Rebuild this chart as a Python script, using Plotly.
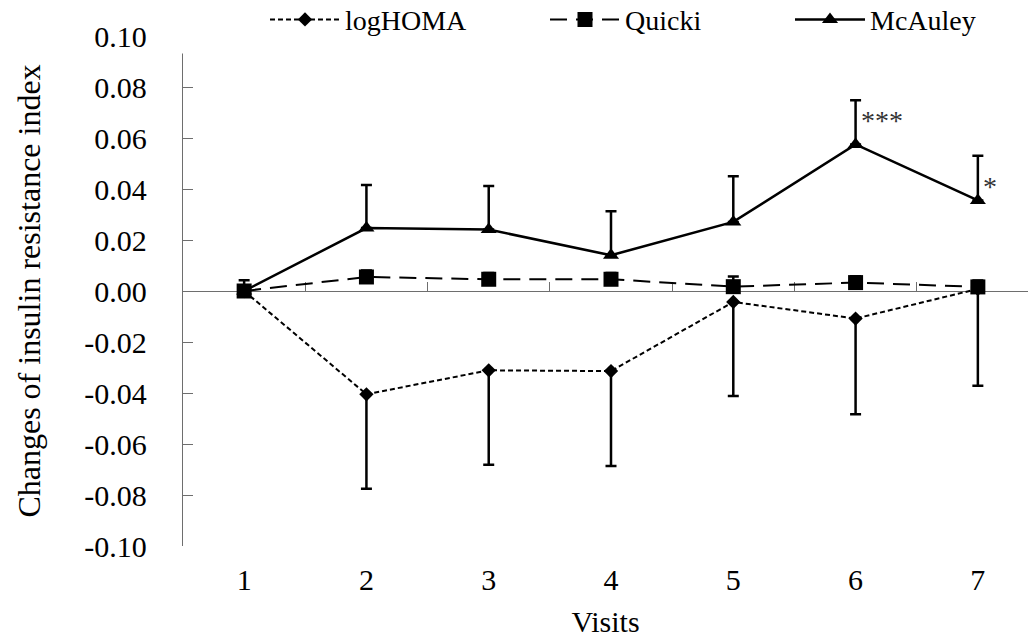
import plotly.graph_objects as go

# ---- data ----
visits = [1, 2, 3, 4, 5, 6, 7]
visit_labels = ["1", "2", "3", "4", "5", "6", "7"]

loghoma = [0.0000, -0.0405, -0.0311, -0.0314, -0.0043, -0.0108, 0.0008]
loghoma_err = [0.0000, 0.0370, 0.0370, 0.0372, 0.0369, 0.0375, 0.0380]

quicki = [0.0000, 0.0055, 0.0046, 0.0046, 0.0017, 0.0033, 0.0016]
quicki_err = [0.0042, 0.0025, 0.0025, 0.0025, 0.0040, 0.0025, 0.0025]

mcauley = [0.0000, 0.0247, 0.0241, 0.0140, 0.0271, 0.0575, 0.0355]
mcauley_err = [0.0000, 0.0169, 0.0171, 0.0173, 0.0179, 0.0173, 0.0175]

star_text = ["***", "*"]
star_visit = [6, 7]
star_y = [0.0667, 0.0410]

y_ticks = [-0.10, -0.08, -0.06, -0.04, -0.02, 0.00, 0.02, 0.04, 0.06, 0.08, 0.10]

FONT = "Liberation Serif"
AXIS_COL = "#6e6e6e"

fig = go.Figure()

fig.add_trace(go.Scatter(
    x=visits, y=loghoma, name="logHOMA", mode="lines+markers",
    line=dict(color="black", width=2, dash="5px,3px"),
    marker=dict(symbol="diamond", size=11, color="black"),
    error_y=dict(type="data", symmetric=False, array=[0] * 7, arrayminus=loghoma_err,
                 color="black", thickness=2.5, width=5.5),
    legend="legend",
))
fig.add_trace(go.Scatter(
    x=visits, y=quicki, name="Quicki", mode="lines+markers",
    line=dict(color="black", width=2, dash="17px,9px"),
    marker=dict(symbol="square", size=15, color="black"),
    error_y=dict(type="data", symmetric=False, array=quicki_err, arrayminus=[0] * 7,
                 color="black", thickness=2.5, width=5.5),
    legend="legend2",
))
fig.add_trace(go.Scatter(
    x=visits, y=mcauley, name="McAuley", mode="lines+markers",
    line=dict(color="black", width=2.5),
    marker=dict(symbol="triangle-up", size=14, color="black"),
    error_y=dict(type="data", symmetric=False, array=mcauley_err, arrayminus=[0] * 7,
                 color="black", thickness=2.5, width=5.5),
    legend="legend3",
))
# helper trace so the zero-crossing category axis is drawn
fig.add_trace(go.Scatter(x=visits, y=[None] * 7, xaxis="x2", showlegend=False,
                         hoverinfo="skip", mode="lines"))

for t, xv, yv in zip(star_text, star_visit, star_y):
    fig.add_annotation(x=xv, y=yv, text=t, showarrow=False, xanchor="left", yanchor="middle",
                       xshift=3, font=dict(family=FONT, size=28, color="#333333"))

xr = [0.5, 7.41]
PW = 845  # plot width in px
legend_common = dict(orientation="h", yanchor="middle", xanchor="left", y=1.032,
                     itemwidth=70,
                     bgcolor="rgba(0,0,0,0)", font=dict(family=FONT, size=28, color="black"))

fig.update_layout(
    width=1028, height=641,
    margin=dict(l=183, r=0, t=36, b=95, autoexpand=False),
    paper_bgcolor="white", plot_bgcolor="white",
    font=dict(family=FONT, size=28, color="black"),
    xaxis=dict(
        range=xr, tickmode="array", tickvals=visits, ticktext=visit_labels,
        showline=False, showgrid=False, zeroline=False, ticks="",
        ticklabelstandoff=13,
        title=dict(text="Visits", font=dict(family=FONT, size=30), standoff=15),
        tickfont=dict(family=FONT, size=30, color="black"),
    ),
    xaxis2=dict(
        range=xr, overlaying="x", anchor="free", position=0.5, side="bottom",
        showline=True, linecolor=AXIS_COL, linewidth=1.3,
        ticks="inside", ticklen=9, tickcolor=AXIS_COL, tickwidth=1.3,
        tickmode="linear", tick0=0.5, dtick=1,
        showticklabels=False, showgrid=False, zeroline=False, layer="below traces",
    ),
    yaxis=dict(
        range=[-0.10, 0.10], tickmode="array", tickvals=y_ticks,
        ticktext=[f"{v:.2f}" for v in y_ticks],
        showline=True, linecolor=AXIS_COL, linewidth=1.3,
        ticks="inside", ticklen=10, tickcolor=AXIS_COL, tickwidth=1.3,
        ticklabelstandoff=29,
        showgrid=False, zeroline=False,
        title=dict(text="Changes of insulin resistance index", font=dict(family=FONT, size=32),
                   standoff=34),
        tickfont=dict(family=FONT, size=30, color="black"),
    ),
    legend=dict(legend_common, x=(265 - 183) / PW),
    legend2=dict(legend_common, x=(545 - 183) / PW),
    legend3=dict(legend_common, x=(790 - 183) / PW),
    shapes=[dict(type="rect", xref="paper", yref="paper", x0=-0.012, x1=0.02,
                 y0=1 - 17.5 / 510, y1=1.02, fillcolor="white", line=dict(width=0),
                 layer="above")],
    showlegend=True,
)

fig.write_html("out.html", config={"displayModeBar": False},
               post_script="document.body.style.margin='0';")
